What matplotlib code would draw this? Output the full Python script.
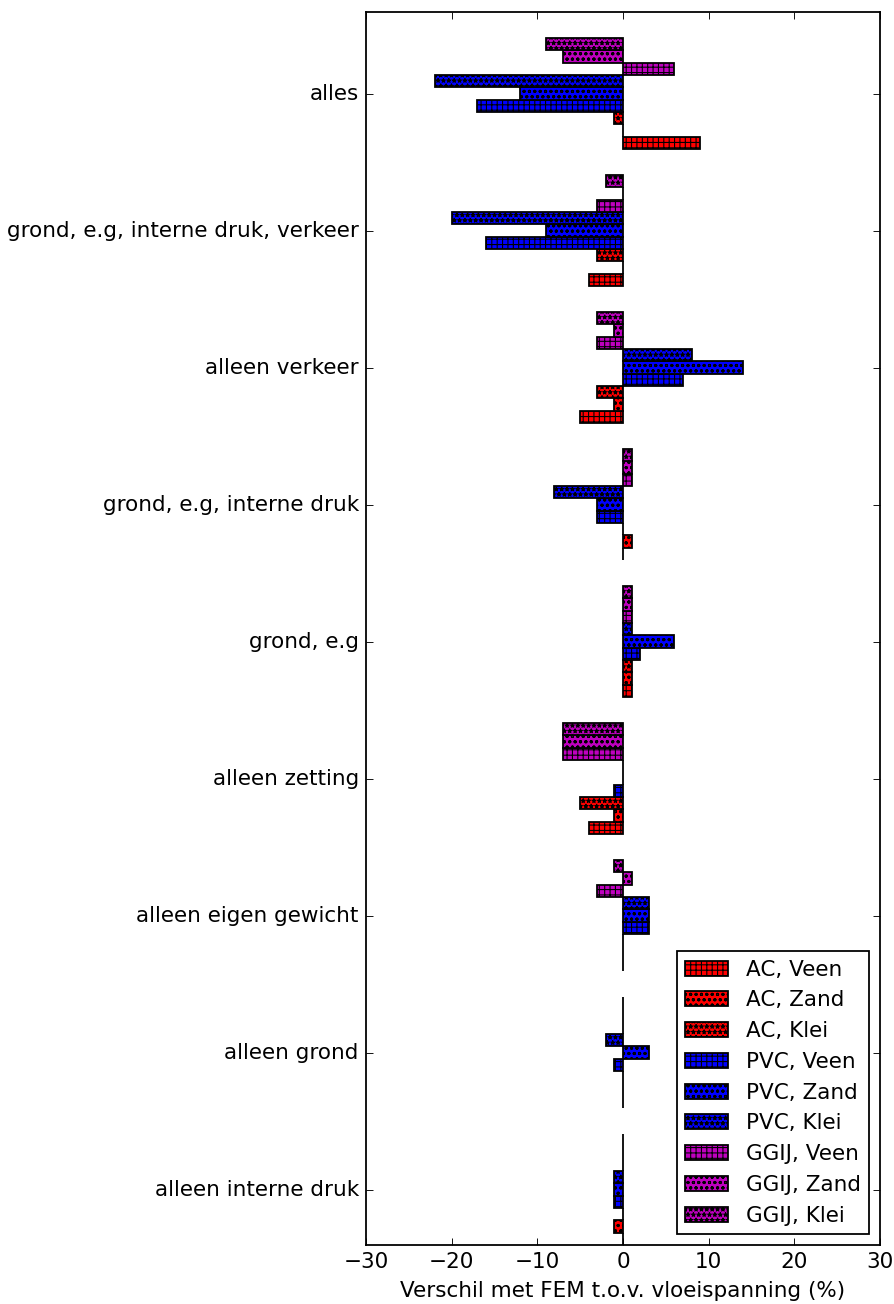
import numpy as np
import matplotlib
matplotlib.use('Agg')
from matplotlib import pyplot as plt

plt.style.use('classic')
plt.rcParams['hatch.linewidth'] = 0.6

# categories from bottom to top
categories = ['alleen interne druk', 'alleen grond', 'alleen eigen gewicht',
              'alleen zetting', 'grond, e.g', 'grond, e.g, interne druk',
              'alleen verkeer', 'grond, e.g, interne druk, verkeer', 'alles']

labels = ['AC, Veen', 'AC, Zand', 'AC, Klei',
          'PVC, Veen', 'PVC, Zand', 'PVC, Klei',
          'GGIJ, Veen', 'GGIJ, Zand', 'GGIJ, Klei']

# difference with FEM (%) per category, same order as categories
ac_veen = [0, 0, 0, -4, 1, 0, -5, -4, 9]
ac_zand = [-1, 0, 0, -1, 1, 1, -1, 0, 0]
ac_klei = [0, 0, 0, -5, 1, 0, -3, -3, -1]
pvc_veen = [-1, -1, 3, -1, 2, -3, 7, -16, -17]
pvc_zand = [-1, 3, 3, 0, 6, -3, 14, -9, -12]
pvc_klei = [-1, -2, 3, 0, 1, -8, 8, -20, -22]
ggij_veen = [0, 0, -3, -7, 1, 1, -3, -3, 6]
ggij_zand = [0, 0, 1, -7, 1, 1, -1, 0, -7]
ggij_klei = [0, 0, -1, -7, 1, 1, -3, -2, -9]

series = [ac_veen, ac_zand, ac_klei, pvc_veen, pvc_zand, pvc_klei,
          ggij_veen, ggij_zand, ggij_klei]
colors = ['r', 'r', 'r', 'b', 'b', 'b', 'm', 'm', 'm']
hatches = ['++++', 'oooo', '****'] * 3

ind = np.arange(len(categories))
width = 0.09

dpi = 129
fig = plt.figure(figsize=(894. / dpi, 1304. / dpi), dpi=dpi)
ax = fig.add_axes([366 / 894., 59 / 1304., 514 / 894., 1233 / 1304.])

for k in range(len(series)):
    ax.barh(ind + k * width, series[k], width, align='edge',
            color=colors[k], hatch=hatches[k], label=labels[k])

ax.set_yticks(ind + 4.5 * width)
ax.set_yticklabels(categories)
ax.set_ylim(0, 9)
ax.set_xlim(-30, 30)
ax.set_xlabel('Verschil met FEM t.o.v. vloeispanning (%)')
ax.legend(loc='lower right', fontsize=12)

fig.savefig('out.png', dpi=dpi)
